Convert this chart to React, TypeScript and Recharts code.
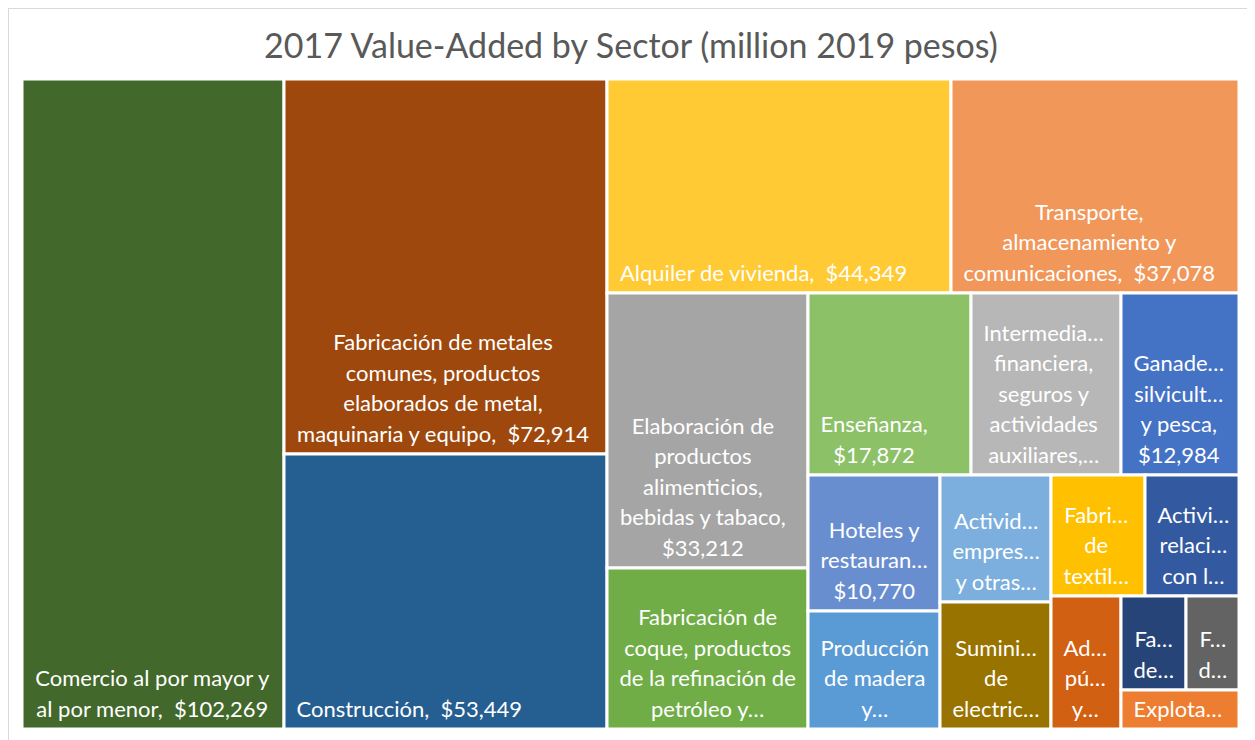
import React from 'react';
import { Treemap } from 'recharts';

const TITLE = '2017 Value-Added by Sector (million 2019 pesos)';

// Sector names (largest to smallest, in the order the treemap lays them out)
const SECTORS = [
  'Comercio al por mayor y al por menor',
  'Fabricación de metales comunes, productos elaborados de metal, maquinaria y equipo',
  'Construcción',
  'Alquiler de vivienda',
  'Transporte, almacenamiento y comunicaciones',
  'Elaboración de productos alimenticios, bebidas y tabaco',
  'Fabricación de coque, productos de la refinación de petróleo y combustible nuclear',
  'Enseñanza',
  'Intermediación financiera, seguros y actividades auxiliares',
  'Ganadería, silvicultura y pesca',
  'Hoteles y restaurantes',
  'Producción de madera y fabricación de productos de madera',
  'Actividades empresariales y otras actividades de servicios',
  'Suministro de electricidad, gas y agua',
  'Fabricación de textiles, prendas de vestir y cuero',
  'Actividades relacionadas con la extracción de petróleo',
  'Administración pública y defensa',
  'Fabricación de productos minerales no metálicos',
  'Fabricación de papel y productos de papel',
  'Explotación de minas y canteras',
];

// Value added, million 2019 pesos
const VALUES = [
  102269, 72914, 53449, 44349, 37078, 33212, 19440, 17872, 16400, 12984,
  10770, 9330, 8510, 8490, 6840, 6830, 5590, 3680, 2950, 2800,
];

// How many consecutive sectors share one strip of the layout
const STRIP_SIZES = [1, 2, 2, 2, 3, 2, 2, 2, 1, 2, 1];

const COLORS = [
  '#43682B', '#9E480E', '#255E91', '#FFCA33', '#F1975A',
  '#A5A5A5', '#70AD47', '#8CC168', '#B7B7B7', '#4472C4',
  '#698ED0', '#5B9BD5', '#7CAFDD', '#997300', '#FFC000',
  '#335AA1', '#D26012', '#264478', '#636363', '#ED7D31',
];

const LABEL_FAMILY = 'Lato';
const LABEL_SIZE = 22;
const LINE_H = 30.5;

function buildTree() {
  const leaves = SECTORS.map((name, i) => ({ name, value: VALUES[i], colorIndex: i }));
  let idx = 0;
  const strips: any[] = STRIP_SIZES.map((n) => {
    const items = leaves.slice(idx, idx + n);
    idx += n;
    return n === 1 ? items[0] : { name: 'strip', children: items };
  });
  let node: any = strips[strips.length - 1];
  for (let k = strips.length - 2; k >= 0; k--) {
    node = { name: 'group', children: [strips[k], node] };
  }
  return node.children;
}

const TREE = buildTree();

let ctx: any = null;
function measure(s: string): number {
  if (!ctx) ctx = document.createElement('canvas').getContext('2d');
  ctx.font = `${LABEL_SIZE}px ${LABEL_FAMILY}`;
  return ctx.measureText(s).width;
}

function truncate(t: string, maxW: number): string {
  for (let n = t.length - 1; n >= 1; n--) {
    const s = t.slice(0, n) + '…';
    if (measure(s) <= maxW) return s;
  }
  return t.slice(0, 1) + '…';
}

function layoutLabel(name: string, value: number, maxW: number, maxLines: number): string[] {
  const tokens = name.split(' ').map((t) => ({ t, sep: ' ' }));
  tokens[tokens.length - 1].t += ',';
  tokens.push({ t: '$' + value.toLocaleString('en-US'), sep: '  ' });
  const lines: string[] = [];
  let cur: string | null = null;
  const startLine = (t: string) => {
    if (measure(t) <= maxW) cur = t;
    else {
      lines.push(truncate(t, maxW));
      cur = null;
    }
  };
  for (const tok of tokens) {
    if (cur === null) startLine(tok.t);
    else {
      const cand = cur + tok.sep + tok.t;
      if (measure(cand) <= maxW) cur = cand;
      else {
        lines.push(cur);
        cur = null;
        startLine(tok.t);
      }
    }
  }
  if (cur !== null) lines.push(cur);
  if (lines.length > maxLines) {
    const out = lines.slice(0, maxLines);
    let last = out[maxLines - 1];
    if (!last.endsWith('…')) {
      let base = last;
      while (base.length > 1 && measure(base + '…') > maxW) base = base.slice(0, -1);
      last = base + '…';
    }
    out[maxLines - 1] = last;
    return out;
  }
  return lines;
}

function CellContent(props: any) {
  const { x, y, width, height, children, colorIndex, name, value } = props;
  if ((children && children.length) || colorIndex === undefined) return null;
  const vx = x + 1.5;
  const vy = y + 1.5;
  const vw = width - 3;
  const vh = height - 3;
  const maxLines = Math.max(1, Math.floor((vh - 14) / LINE_H));
  const lines = layoutLabel(name, value, vw - 18, maxLines);
  const blockW = Math.max(...lines.map(measure));
  const cx = vx + 11 + blockW / 2;
  const lastBase = vy + vh - 11;
  return (
    <g>
      <rect x={x} y={y} width={width} height={height} fill={COLORS[colorIndex]} stroke="#ffffff" strokeWidth={3} />
      {lines.map((ln, i) => (
        <text
          key={i}
          x={cx}
          y={lastBase - (lines.length - 1 - i) * LINE_H}
          textAnchor="middle"
          fill="#ffffff"
          fontFamily={LABEL_FAMILY}
          fontSize={LABEL_SIZE}
          style={{ whiteSpace: 'pre' }}
        >
          {ln}
        </text>
      ))}
    </g>
  );
}

export default function App() {
  return (
    <div
      style={{
        position: 'relative',
        width: 1243,
        height: 740,
        border: '1px solid #d9d9d9',
        boxSizing: 'border-box',
        background: '#ffffff',
      }}
    >
      <style>{'html,body{overflow:hidden}'}</style>
      <svg width={1241} height={70} style={{ position: 'absolute', left: 0, top: 0 }}>
        <text x={622} y={49} textAnchor="middle" fill="#595959" fontFamily="Lato" fontSize={34}>
          {TITLE}
        </text>
      </svg>
      <div style={{ position: 'absolute', left: 13, top: 70 }}>
        <Treemap
          width={1217}
          height={650}
          data={TREE}
          dataKey="value"
          nameKey="name"
          aspectRatio={0.6}
          isAnimationActive={false}
          content={(p: any) => <CellContent {...p} />}
        />
      </div>
    </div>
  );
}
